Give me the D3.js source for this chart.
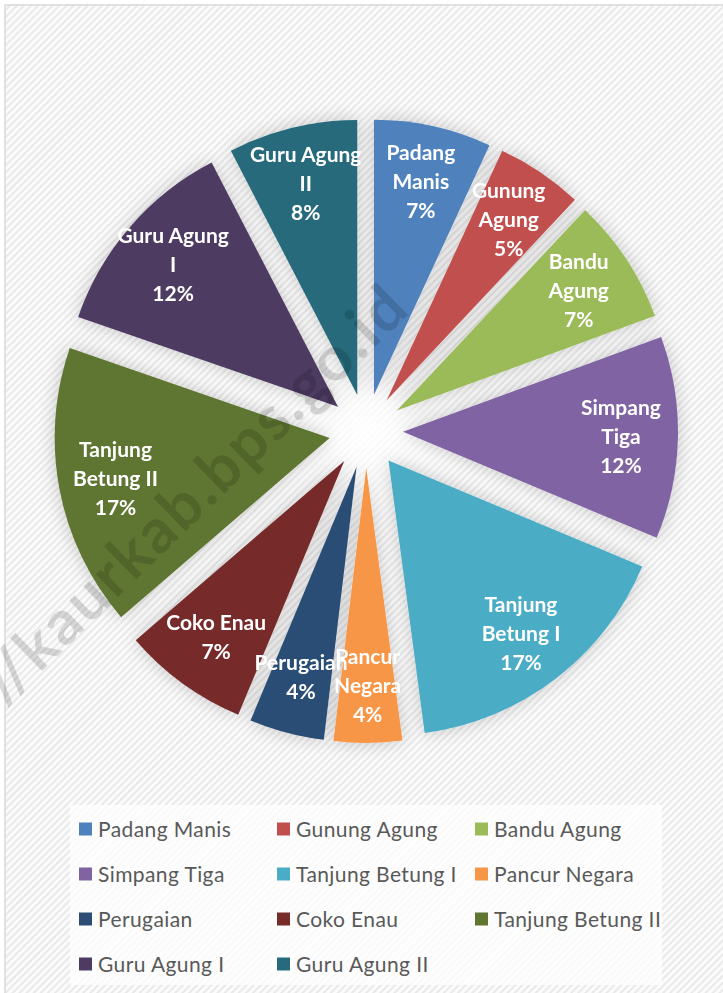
<!DOCTYPE html>
<html><head><meta charset="utf-8">
<script src="https://cdn.jsdelivr.net/npm/d3@7"></script>
<style>
html,body{margin:0;padding:0;background:#fff;}
svg{display:block;}
</style></head>
<body>
<svg id="chart" width="723" height="993"></svg>
<script>
const categories = ["Padang Manis","Gunung Agung","Bandu Agung","Simpang Tiga","Tanjung Betung I","Pancur Negara","Perugaian","Coko Enau","Tanjung Betung II","Guru Agung I","Guru Agung II"];
const values = [6.9, 5.1, 7.4, 11.9, 16.6, 4.0, 4.4, 7.4, 16.6, 12.1, 7.6];
const colors = ["#4F81BD","#C0504D","#9BBB59","#8064A2","#4BACC6","#F79646","#2C4D75","#772C2A","#5F7530","#4D3B62","#276A7C"];
const watermarkPrefix = "https:";
const watermarkBody = "//kaurkab.bps.go.id";

const W = 723, H = 993;
const cx = 366, cy = 431, R = 275, explode = 37, labelR = 218;

const svg = d3.select("#chart");
const defs = svg.append("defs");

// striped background pattern
const pat = defs.append("pattern").attr("id","stripes").attr("patternUnits","userSpaceOnUse")
  .attr("width",5).attr("height",5).attr("patternTransform","rotate(45)");
pat.append("rect").attr("width",5).attr("height",5).attr("fill","#fbfbfb");
pat.append("rect").attr("x",0).attr("width",2).attr("height",5).attr("fill","#e9e9e9");

const rg2 = defs.append("radialGradient").attr("id","glowLocal");
rg2.append("stop").attr("offset","0").attr("stop-color","#fff").attr("stop-opacity",0.95);
rg2.append("stop").attr("offset","0.45").attr("stop-color","#fff").attr("stop-opacity",0.5);
rg2.append("stop").attr("offset","1").attr("stop-color","#fff").attr("stop-opacity",0);

const shadow = defs.append("filter").attr("id","shadow").attr("x","-30%").attr("y","-30%").attr("width","160%").attr("height","160%");
shadow.append("feGaussianBlur").attr("in","SourceAlpha").attr("stdDeviation",9).attr("result","b");
shadow.append("feComponentTransfer").attr("in","b").attr("result","s")
  .append("feFuncA").attr("type","linear").attr("slope",0.2);
const fm = shadow.append("feMerge");
fm.append("feMergeNode").attr("in","s");
fm.append("feMergeNode").attr("in","SourceGraphic");

svg.append("rect").attr("width",W).attr("height",H).attr("fill","#fff");
svg.append("rect").attr("x",5).attr("y",5).attr("width",W+20).attr("height",H+20)
  .attr("fill","url(#stripes)").attr("stroke","#d9d9d9").attr("stroke-width",1.5);

// pie
const data = categories.map((c,i)=>({name:c, value:values[i], color:colors[i]}));
const total = d3.sum(values);
const pie = d3.pie().sort(null).value(d=>d.value);
const arcs = pie(data);
const arc = d3.arc().innerRadius(0).outerRadius(R);
const labelArc = d3.arc().innerRadius(labelR).outerRadius(labelR);

const g = svg.append("g").attr("transform",`translate(${cx},${cy})`);
const offset = d => { const m=(d.startAngle+d.endAngle)/2; return [Math.sin(m)*explode, -Math.cos(m)*explode]; };

g.append("circle").attr("r",110).attr("fill","url(#glowLocal)");
g.append("g").attr("filter","url(#shadow)").selectAll("path").data(arcs).join("path")
  .attr("d",arc).attr("fill",d=>d.data.color)
  .attr("transform",d=>`translate(${offset(d)})`);

// labels
const lblFont = "Lato, 'Noto Sans', sans-serif";
const measurer = svg.append("text").attr("font-family",lblFont).attr("font-size",21).attr("font-weight",700).attr("visibility","hidden");
function textW(s){ measurer.text(s); return measurer.node().getComputedTextLength(); }
function wrap(s, maxW){
  const words = s.split(" "); const lines=[]; let cur="";
  words.forEach(w=>{ const t = cur? cur+" "+w : w; if(cur && textW(t)>maxW){ lines.push(cur); cur=w; } else cur=t; });
  if(cur) lines.push(cur); return lines;
}
const lineH = 29;
const lg = svg.append("g").attr("transform",`translate(${cx},${cy})`);
arcs.forEach(d=>{
  const lines = wrap(d.data.name, 118);
  lines.push(Math.round(d.data.value/total*100)+"%");
  const [ox,oy] = offset(d);
  const [lx,ly] = labelArc.centroid(d);
  const t = lg.append("text").attr("x",lx+ox).attr("y",ly+oy)
    .attr("text-anchor","middle").attr("font-family",lblFont).attr("font-size",21).attr("font-weight",700)
    .attr("fill","#fff");
  const n = lines.length;
  lines.forEach((L,i)=>{
    t.append("tspan").attr("x",lx+ox).attr("y",ly+oy + (i-(n-1)/2)*lineH).attr("dy","0.35em").text(L);
  });
});
measurer.remove();

// legend
const legCols = [79, 277, 475], legRow0 = 829, legRowH = 45;
svg.append("rect").attr("x",70).attr("y",805).attr("width",592).attr("height",180).attr("fill","#fff").attr("opacity",0.75);
const leg = svg.append("g").selectAll("g").data(data).join("g")
  .attr("transform",(d,i)=>`translate(${legCols[i%3]},${legRow0 + Math.floor(i/3)*legRowH})`);
leg.append("rect").attr("x",0).attr("y",-6.5).attr("width",13).attr("height",13).attr("fill",d=>d.color);
leg.append("text").attr("x",19).attr("y",0).attr("dy","0.36em").attr("font-family","Lato, 'Noto Sans', sans-serif")
  .attr("font-size",21).attr("letter-spacing",0.4).attr("fill","#595959").text(d=>d.name);

// watermark: the visible part "//kaurkab.bps.go.id" runs ~568px along a -44° baseline
const wmSize = 62, wmLen = 568;
const wmMeasure = svg.append("text").attr("font-family",lblFont).attr("font-weight",700).attr("font-size",wmSize)
  .attr("visibility","hidden").text(watermarkBody);
const ls = (wmLen - wmMeasure.node().getComputedTextLength()) / watermarkBody.length;
wmMeasure.remove();
svg.append("text").attr("transform","translate(5,707) rotate(-44.2)").attr("text-anchor","start")
  .attr("font-family",lblFont).attr("font-weight",700).attr("font-size",wmSize).attr("letter-spacing",ls)
  .attr("fill","#000").attr("fill-opacity",0.14)
  .call(t=>{
    t.append("tspan").text(watermarkPrefix).attr("class","pre");
    t.append("tspan").text(watermarkBody);
  })
  .each(function(){
    // shift so that the body (not the prefix) starts at the anchor point
    const pre = d3.select(this).select(".pre").node().getComputedTextLength();
    d3.select(this).attr("x",-pre);
  });
</script>
</body></html>
